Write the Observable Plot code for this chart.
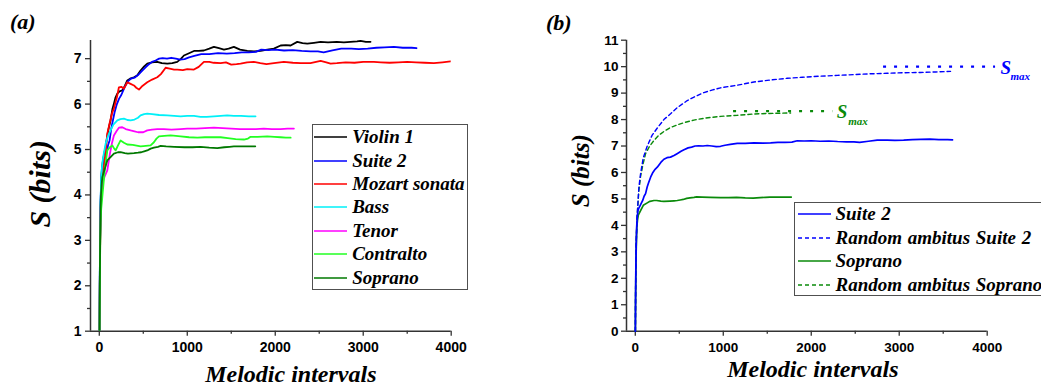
<!DOCTYPE html>
<html>
<head>
<meta charset="utf-8">
<script src="https://cdn.jsdelivr.net/npm/d3@7"></script>
<script src="https://cdn.jsdelivr.net/npm/@observablehq/plot@0.6"></script>
<style>
  html, body { margin: 0; padding: 0; background: #fff; }
  #figure { position: relative; width: 1041px; height: 387px; overflow: hidden; background: #fff; }
  .panel { position: absolute; top: 0; }
  .tag { position: absolute; font-family: "Liberation Serif", "Times New Roman", serif; font-style: italic; font-weight: bold; font-size: 22px; line-height: 22px; white-space: nowrap; }
  .legend { position: absolute; box-sizing: border-box; border: 1.6px solid #505050; background: #fff;
            font-family: "Liberation Serif", "Times New Roman", serif; font-style: italic; font-weight: bold; font-size: 19px; }
  .legend .row { position: absolute; height: 22px; display: flex; align-items: center; white-space: pre; }
  .legend svg { display: block; flex: none; }
</style>
</head>
<body>
<div id="figure"></div>
<script>
// Entropy S (bits) against the number of melodic intervals read so far.
// Each series is a list of [melodic intervals, S] pairs.
const violin1 = [[1,0],[3,1.1],[6,2.2],[10,3.1],[15,3.8],[22,4.3],[30,4.6],[45,4.8],[60,4.95],[72,5.05],[90,5.3],[110,5.5],[128,5.64],[150,5.9],[166,6.01],[185,6.15],[205,6.23],[230,6.28],[261,6.3],[290,6.4],[318,6.52],[350,6.56],[394,6.59],[430,6.63],[469,6.74],[510,6.83],[545,6.89],[600,6.92],[659,6.93],[710,6.9],[773,6.89],[830,6.9],[886,6.93],[930,7.0],[962,7.07],[1020,7.12],[1076,7.17],[1130,7.17],[1189,7.18],[1250,7.22],[1303,7.26],[1360,7.23],[1417,7.2],[1470,7.22],[1530,7.26],[1600,7.2],[1682,7.17],[1760,7.16],[1833,7.17],[1910,7.2],[1985,7.22],[2061,7.29],[2120,7.3],[2175,7.29],[2250,7.37],[2310,7.34],[2364,7.33],[2440,7.35],[2516,7.37],[2600,7.36],[2700,7.37],[2780,7.36],[2856,7.37],[2930,7.38],[2970,7.39],[3030,7.37],[3083,7.37]];

const suite2 = [[1,0],[3,1.2],[6,2.3],[10,3.2],[15,3.9],[22,4.3],[30,4.55],[40,4.65],[55,4.75],[70,4.85],[85,4.95],[100,5.1],[117,5.2],[135,5.45],[150,5.6],[174,5.82],[200,6.0],[225,6.12],[250,6.2],[290,6.38],[325,6.5],[360,6.56],[400,6.58],[440,6.64],[480,6.72],[520,6.8],[553,6.86],[600,6.93],[640,6.96],[680,7.0],[720,7.01],[770,7.0],[818,7.02],[870,7.0],[920,6.98],[969,6.99],[1020,7.03],[1080,7.06],[1159,7.1],[1250,7.1],[1350,7.12],[1450,7.11],[1538,7.12],[1620,7.14],[1700,7.14],[1780,7.15],[1841,7.2],[1920,7.19],[2000,7.2],[2100,7.18],[2200,7.19],[2300,7.17],[2400,7.16],[2485,7.16],[2550,7.14],[2650,7.18],[2750,7.22],[2864,7.22],[2950,7.21],[3050,7.22],[3150,7.24],[3242,7.25],[3348,7.26],[3450,7.24],[3550,7.24],[3606,7.23]];

const mozartSonata = [[1,0],[3,1.0],[6,2.0],[10,2.9],[15,3.6],[22,4.1],[34,4.4],[50,4.6],[70,4.9],[91,5.35],[120,5.6],[145,5.8],[166,5.9],[200,6.15],[223,6.37],[250,6.38],[280,6.34],[318,6.48],[350,6.45],[394,6.41],[420,6.36],[451,6.32],[490,6.4],[545,6.48],[600,6.54],[659,6.59],[700,6.66],[754,6.8],[800,6.78],[850,6.76],[886,6.76],[950,6.75],[1000,6.77],[1076,6.76],[1130,6.82],[1189,6.93],[1250,6.93],[1300,6.91],[1379,6.9],[1440,6.92],[1500,6.87],[1560,6.88],[1606,6.89],[1680,6.92],[1757,6.93],[1830,6.9],[1900,6.88],[1985,6.9],[2098,6.93],[2200,6.91],[2288,6.9],[2400,6.9],[2516,6.95],[2580,6.92],[2629,6.89],[2700,6.9],[2800,6.92],[2900,6.91],[3000,6.93],[3121,6.93],[3200,6.92],[3300,6.91],[3400,6.92],[3500,6.93],[3600,6.92],[3700,6.91],[3803,6.9],[3900,6.92],[3992,6.94]];

const bass = [[1,0],[3,1.2],[6,2.3],[10,3.2],[15,3.9],[22,4.4],[34,4.7],[50,4.9],[72,5.13],[100,5.3],[128,5.42],[160,5.55],[205,5.64],[240,5.67],[280,5.68],[320,5.65],[356,5.64],[400,5.66],[440,5.7],[469,5.75],[510,5.78],[545,5.79],[600,5.78],[680,5.76],[773,5.75],[850,5.74],[924,5.73],[1000,5.74],[1076,5.74],[1150,5.72],[1220,5.72],[1303,5.73],[1380,5.74],[1454,5.75],[1530,5.74],[1610,5.74],[1700,5.73],[1776,5.73]];

const tenor = [[1,0],[3,1.1],[6,2.1],[10,3.0],[15,3.6],[22,4.0],[34,4.25],[60,4.4],[91,4.54],[120,4.9],[145,5.15],[166,5.31],[195,5.4],[223,5.48],[261,5.49],[300,5.45],[356,5.42],[400,5.4],[440,5.38],[500,5.38],[545,5.42],[600,5.44],[659,5.45],[734,5.45],[820,5.44],[924,5.45],[1000,5.46],[1100,5.46],[1200,5.47],[1303,5.48],[1400,5.47],[1500,5.46],[1600,5.45],[1682,5.45],[1780,5.45],[1870,5.46],[1960,5.45],[2061,5.45],[2140,5.46],[2212,5.46]];

const contralto = [[1,0],[3,1.0],[6,2.0],[10,2.8],[15,3.4],[22,3.7],[34,3.95],[60,4.5],[91,4.98],[120,5.05],[148,5.09],[170,5.02],[186,4.98],[210,5.08],[242,5.2],[280,5.15],[318,5.11],[380,5.1],[469,5.07],[530,5.08],[583,5.09],[621,5.16],[650,5.24],[678,5.29],[740,5.3],[811,5.31],[870,5.3],[924,5.29],[1020,5.27],[1114,5.26],[1200,5.27],[1290,5.27],[1379,5.27],[1460,5.25],[1550,5.23],[1644,5.22],[1690,5.24],[1720,5.28],[1800,5.28],[1909,5.29],[1990,5.28],[2061,5.27],[2120,5.26],[2175,5.26]];

const soprano = [[1,0],[3,1.1],[6,2.1],[10,3.0],[15,3.7],[19,4.0],[25,4.2],[34,4.39],[60,4.56],[91,4.76],[136,4.85],[166,4.91],[212,4.94],[242,4.94],[290,4.92],[325,4.91],[394,4.92],[440,4.93],[477,4.94],[510,4.96],[545,4.98],[584,5.02],[621,5.04],[667,5.06],[697,5.08],[760,5.07],[850,5.06],[969,5.05],[1060,5.05],[1151,5.06],[1250,5.04],[1341,5.03],[1420,5.05],[1480,5.06],[1530,5.07],[1620,5.07],[1700,5.07],[1773,5.07]];

// Random melodies drawn over the same ambitus
const randomSuite2 = [[1,0],[5,2.2],[10,3.3],[20,4.3],[41,5.45],[60,5.95],[90,6.55],[136,7.0],[190,7.4],[250,7.68],[325,8.0],[401,8.22],[477,8.45],[591,8.72],[667,8.85],[780,9.02],[880,9.12],[969,9.2],[1159,9.3],[1348,9.42],[1550,9.5],[1727,9.56],[1900,9.6],[2106,9.64],[2300,9.67],[2485,9.7],[2674,9.73],[2864,9.75],[3050,9.77],[3242,9.78],[3420,9.8],[3583,9.82]];

const randomSoprano = [[1,0],[5,2.2],[10,3.3],[20,4.3],[40,5.3],[60,5.85],[90,6.35],[117,6.71],[160,6.98],[212,7.21],[265,7.4],[325,7.55],[400,7.7],[477,7.8],[570,7.9],[666,7.98],[800,8.06],[969,8.12],[1159,8.16],[1348,8.21],[1500,8.23],[1651,8.24],[1765,8.25]];

// Maximum entropy levels (bits) and the stretch over which they are marked
const smaxSuite2 = [{s: 10.0, from: 2822, to: 4095}];
const smaxSoprano = [{s: 8.32, from: 1117, to: 2245}];

// Axis ticks
const xMajor = [0, 1000, 2000, 3000, 4000];
const xMinor = [500, 1500, 2500, 3500];
const yMajorA = [1, 2, 3, 4, 5, 6, 7];
const yMinorA = [1.5, 2.5, 3.5, 4.5, 5.5, 6.5];
const yMajorB = [0, 1, 2, 3, 4, 5, 6, 7, 8, 9, 10, 11];
const yMinorB = [0.5, 1.5, 2.5, 3.5, 4.5, 5.5, 6.5, 7.5, 8.5, 9.5, 10.5];

// Series styling and legend labels
const seriesA = [
  {label: "Violin 1", values: violin1, color: "#000000"},
  {label: "Suite 2", values: suite2, color: "#0000ff"},
  {label: "Mozart sonata", values: mozartSonata, color: "#ff0000"},
  {label: "Bass", values: bass, color: "#00f0f8"},
  {label: "Tenor", values: tenor, color: "#ff00ff"},
  {label: "Contralto", values: contralto, color: "#22ff22"},
  {label: "Soprano", values: soprano, color: "#007800"}
];
const seriesB = [
  {label: "Suite 2", values: suite2, color: "#0000ff", dash: null},
  {label: "Random ambitus Suite 2", values: randomSuite2, color: "#0000ff", dash: "4,3"},
  {label: "Soprano", values: soprano, color: "#0a8a0a", dash: null},
  {label: "Random ambitus Soprano", values: randomSoprano, color: "#0a8a0a", dash: "4,3"}
];

const SERIF = "Liberation Serif";
const SANS = "Liberation Sans";
const AXIS = "#333";

function axisMarks(yMajor, yMinor, yMin, tickPadY) {
  const common = {stroke: AXIS, strokeWidth: 1.3, label: null, fill: "#000"};
  return [
    Plot.axisX(xMajor, {...common, tickSize: 5, tickPadding: 6, tickFormat: d => String(d)}),
    Plot.axisX(xMinor, {...common, tickSize: 3, tickFormat: () => ""}),
    Plot.axisY(yMajor, {...common, tickSize: 5, tickPadding: tickPadY, tickFormat: d => String(d)}),
    Plot.axisY(yMinor, {...common, tickSize: 3, tickFormat: () => ""}),
    Plot.ruleX([-100], {stroke: AXIS, strokeWidth: 1.5}),
    Plot.ruleY([yMin], {stroke: AXIS, strokeWidth: 1.5})
  ];
}

const titleStyle = {fontFamily: SERIF, fontStyle: "italic", fontWeight: "bold", fill: "#000", text: d => d, textAnchor: "middle", lineAnchor: "middle"};

// Panel (a): all pieces and voices
const plotA = Plot.plot({
  width: 520, height: 387,
  marginLeft: 90, marginRight: 69.3, marginTop: 40, marginBottom: 56.3,
  x: {domain: [-100, 4000], axis: null},
  y: {domain: [1, 7.4], axis: null},
  style: {fontFamily: SANS, fontWeight: "bold", fontSize: "14px", background: "transparent", color: "#000", overflow: "visible"},
  marks: [
    ...axisMarks(yMajorA, yMinorA, 1, 4),
    ...seriesA.map(s => Plot.line(s.values, {x: d => d[0], y: d => d[1], stroke: s.color, strokeWidth: 1.8, clip: true})),
    Plot.text(["S (bits)"], {...titleStyle, frameAnchor: "left", rotate: -90, dx: -50, dy: -2, fontSize: 30}),
    Plot.text(["Melodic intervals"], {...titleStyle, frameAnchor: "bottom", dx: 20, dy: 43.6, fontSize: 24})
  ]
});

// Panel (b): Suite 2 and Soprano against random melodies of the same ambitus
const smaxText = {y: "s", x: "to", textAnchor: "start", fontFamily: SERIF, fontStyle: "italic", fontWeight: "bold"};
const plotB = Plot.plot({
  width: 521, height: 387,
  marginLeft: 106, marginRight: 54.3, marginTop: 39.7, marginBottom: 56.3,
  x: {domain: [-100, 4000], axis: null},
  y: {domain: [0, 11], axis: null},
  style: {fontFamily: SANS, fontWeight: "bold", fontSize: "13.5px", background: "transparent", color: "#000", overflow: "visible"},
  marks: [
    ...axisMarks(yMajorB, yMinorB, 0, 3),
    ...[...seriesB].reverse().map(s => Plot.line(s.values, {x: d => d[0], y: d => d[1], stroke: s.color, strokeWidth: s.dash ? 1.4 : 1.7, strokeDasharray: s.dash})),
    Plot.ruleY(smaxSuite2, {y: "s", x1: "from", x2: "to", stroke: "#0000ff", strokeWidth: 2.2, strokeDasharray: "3,8"}),
    Plot.ruleY(smaxSoprano, {y: "s", x1: "from", x2: "to", stroke: "#0a8a0a", strokeWidth: 2.2, strokeDasharray: "3,8"}),
    Plot.text(smaxSuite2, {...smaxText, text: () => "S", dx: 5, dy: 1, fill: "#0000ff", fontSize: 19}),
    Plot.text(smaxSuite2, {...smaxText, text: () => "max", dx: 15, dy: 10, fill: "#0000ff", fontSize: 11}),
    Plot.text(smaxSoprano, {...smaxText, text: () => "S", dx: 4, dy: 0.5, fill: "#0a8a0a", fontSize: 19}),
    Plot.text(smaxSoprano, {...smaxText, text: () => "max", dx: 15.5, dy: 10, fill: "#0a8a0a", fontSize: 11}),
    Plot.text(["S (bits)"], {...titleStyle, frameAnchor: "left", rotate: -90, dx: -46, dy: -15, fontSize: 25}),
    Plot.text(["Melodic intervals"], {...titleStyle, frameAnchor: "bottom", dx: 6, dy: 37.8, fontSize: 24})
  ]
});

const fig = document.getElementById("figure");
plotA.classList.add("panel"); plotA.style.left = "0px";
plotB.classList.add("panel"); plotB.style.left = "520px";
fig.append(plotA, plotB);

function tag(text, left, top) {
  const d = document.createElement("div");
  d.className = "tag"; d.textContent = text;
  d.style.left = left + "px"; d.style.top = top + "px";
  fig.append(d);
}
tag("(a)", 10, 11);
tag("(b)", 546, 12);

// Framed legends with line samples
function legend(series, box) {
  const el = document.createElement("div");
  el.className = "legend";
  Object.assign(el.style, {left: box.left + "px", top: box.top + "px", width: box.width + "px", height: box.height + "px"});
  series.forEach((s, i) => {
    const row = document.createElement("div");
    row.className = "row";
    row.style.left = box.pad + "px";
    row.style.top = (box.first + i * box.step - 11) + "px";
    const svg = d3.create("svg").attr("width", box.sample).attr("height", 22);
    svg.append("line").attr("x1", 0).attr("x2", box.sample).attr("y1", 11).attr("y2", 11)
      .attr("stroke", s.color).attr("stroke-width", 1.5)
      .attr("stroke-dasharray", s.dash || null);
    row.append(svg.node());
    const t = document.createElement("span");
    t.textContent = s.label;
    t.style.marginLeft = box.gap + "px";
    t.style.wordSpacing = box.wordSpacing + "px";
    row.append(t);
    el.append(row);
  });
  fig.append(el);
}
legend(seriesA, {left: 311.7, top: 124, width: 156, height: 165.5, pad: 1.1, first: 12.2, step: 23.4, sample: 33.4, gap: 5, wordSpacing: 0});
legend(seriesB, {left: 794, top: 201.7, width: 270, height: 94, pad: 2.8, first: 11.8, step: 23.5, sample: 33.4, gap: 4.3, wordSpacing: 1});
</script>
</body>
</html>
